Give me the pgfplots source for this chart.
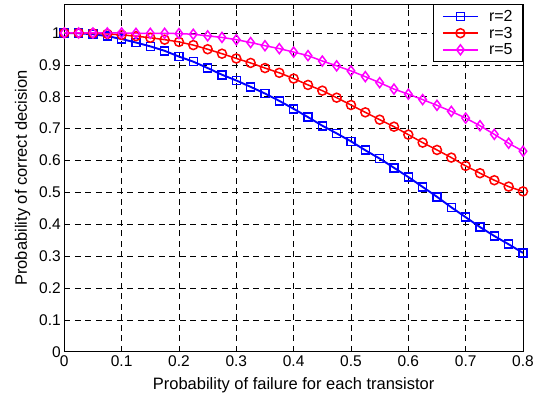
\documentclass[border=0pt]{standalone}
\usepackage{pgfplots}
\pgfplotsset{compat=1.18}
\usepackage{fontspec}
\setmainfont{Liberation Sans}
\definecolor{mblue}{rgb}{0,0,1}
\definecolor{mred}{rgb}{1,0,0}
\definecolor{mmag}{rgb}{1,0,1}
\begin{document}
\begin{tikzpicture}
\begin{axis}[
  name=ax,
  scale only axis,
  width=458.7pt, height=347.4pt,
  xmin=0, xmax=0.8, ymin=0, ymax=1.09,
  xtick={0,0.1,...,0.8},
  ytick={0,0.1,...,1},
  xticklabels={0,0.1,0.2,0.3,0.4,0.5,0.6,0.7,0.8},
  yticklabels={0,0.1,0.2,0.3,0.4,0.5,0.6,0.7,0.8,0.9,1},
  tick align=inside,
  major tick length=5pt,
  tick style={black, line width=0.5pt},
  axis line style={black, line width=0.8pt},
  grid=major,
  major grid style={black, dash pattern=on 6pt off 4.5pt, line width=0.5pt},
  ticklabel style={font=\fontsize{15.5}{18}\selectfont},
  label style={font=\fontsize{16.5}{19}\selectfont},
  /pgf/number format/assume math mode=true,
  xlabel={Probability of failure for each transistor},
  ylabel={Probability of correct decision},
  xlabel style={yshift=-4pt},
  ylabel style={yshift=2pt},
  legend style={at={(1,1)}, anchor=north east, draw=black, line width=0.8pt,
    font=\fontsize{16}{19}\selectfont, inner xsep=8pt, inner ysep=3.5pt, row sep=0pt,
    legend cell align=left,
    /tikz/every odd column/.append style={column sep=8pt}},
  every axis plot post/.append style={legend image code/.code={\draw[mark repeat=2,mark phase=2] plot coordinates {(0cm,0cm) (0.62cm,0cm) (1.24cm,0cm)};}},
]
\addplot[mblue, line width=1.9pt, mark=square, mark size=4pt, mark options={solid, line width=1.6pt}] coordinates {
(0,1.000) (0.025,0.999) (0.05,0.996) (0.075,0.990) (0.1,0.981) (0.125,0.970) (0.15,0.958) (0.175,0.944) (0.2,0.926) (0.225,0.910) (0.25,0.890) (0.275,0.869) (0.3,0.851) (0.325,0.831) (0.35,0.810) (0.375,0.787) (0.4,0.762) (0.425,0.736) (0.45,0.709) (0.475,0.685) (0.5,0.660) (0.525,0.632) (0.55,0.606) (0.575,0.577) (0.6,0.548) (0.625,0.517) (0.65,0.486) (0.675,0.453) (0.7,0.422) (0.725,0.391) (0.75,0.363) (0.775,0.337) (0.8,0.310)};
\addlegendentry{r=2}
\addplot[mred, line width=1.5pt, mark=o, mark size=4.5pt, mark options={solid, line width=1.5pt}] coordinates {
(0,1.000) (0.025,1.000) (0.05,0.999) (0.075,0.997) (0.1,0.994) (0.125,0.990) (0.15,0.985) (0.175,0.979) (0.2,0.972) (0.225,0.962) (0.25,0.949) (0.275,0.935) (0.3,0.920) (0.325,0.906) (0.35,0.890) (0.375,0.875) (0.4,0.857) (0.425,0.837) (0.45,0.819) (0.475,0.797) (0.5,0.774) (0.525,0.751) (0.55,0.728) (0.575,0.706) (0.6,0.681) (0.625,0.656) (0.65,0.633) (0.675,0.609) (0.7,0.583) (0.725,0.560) (0.75,0.538) (0.775,0.518) (0.8,0.503)};
\addlegendentry{r=3}
\addplot[mmag, line width=1.5pt, mark=diamond, mark size=5pt, mark options={solid, line width=1.5pt}] coordinates {
(0,1.000) (0.025,1.000) (0.05,1.000) (0.075,1.000) (0.1,1.000) (0.125,0.999) (0.15,0.999) (0.175,0.999) (0.2,0.998) (0.225,0.996) (0.25,0.991) (0.275,0.986) (0.3,0.979) (0.325,0.970) (0.35,0.960) (0.375,0.951) (0.4,0.940) (0.425,0.929) (0.45,0.912) (0.475,0.897) (0.5,0.881) (0.525,0.863) (0.55,0.844) (0.575,0.824) (0.6,0.808) (0.625,0.791) (0.65,0.773) (0.675,0.754) (0.7,0.733) (0.725,0.709) (0.75,0.682) (0.775,0.654) (0.8,0.629)};
\addlegendentry{r=5}
\end{axis}
\pgfresetboundingbox
\path[use as bounding box] ([shift={(-64.3pt,-46.3pt)}]ax.south west) rectangle ([shift={(19pt,4.3pt)}]ax.north east);
\end{tikzpicture}
\end{document}
